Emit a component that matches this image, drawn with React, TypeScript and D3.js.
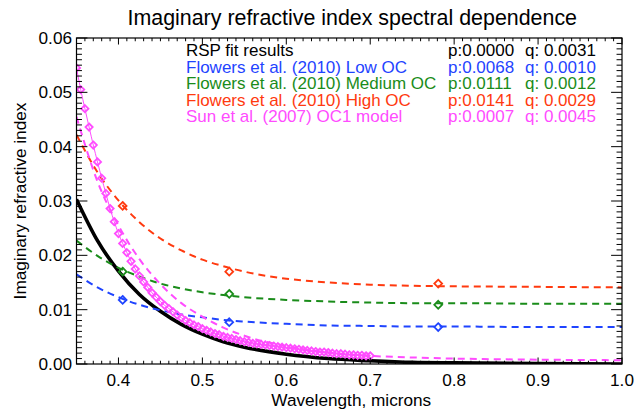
import * as d3 from "d3"

// curve grid (microns) used for the fitted spectral curves
const fitWavelengths = [0.35, 0.375, 0.4, 0.425, 0.45, 0.475, 0.5, 0.525, 0.55, 0.6, 0.65, 0.7, 0.75, 0.8, 0.9, 1.0]

const rspFit = [0.0303, 0.0227, 0.0171, 0.0128, 0.0097, 0.0073, 0.0055, 0.0041, 0.0031, 0.0018, 0.001, 0.0006, 0.0003, 0.0002, 0.0001, 0.0]
const lowOcFit = [0.0165, 0.0141, 0.0123, 0.0109, 0.0099, 0.0091, 0.0086, 0.0081, 0.0078, 0.0074, 0.0071, 0.007, 0.0069, 0.0069, 0.0068, 0.0068]
const medOcFit = [0.0227, 0.0199, 0.0177, 0.0161, 0.0148, 0.0139, 0.0132, 0.0127, 0.0123, 0.0118, 0.0115, 0.0113, 0.0112, 0.0112, 0.0111, 0.0111]
const highOcFit = [0.0422, 0.0353, 0.0301, 0.0261, 0.0231, 0.0209, 0.0192, 0.018, 0.017, 0.0157, 0.015, 0.0146, 0.0144, 0.0143, 0.0142, 0.0141]
const sunFit = [0.0455, 0.0336, 0.0255, 0.0193, 0.0147, 0.0112, 0.0087, 0.0067, 0.0052, 0.0033, 0.0021, 0.0015, 0.0012, 0.001, 0.0008, 0.0007]

// Flowers et al. measurement wavelengths
const flowersWavelengths = [0.405, 0.532, 0.781]
const lowOcPoints = [0.0118, 0.0077, 0.0068]
const medOcPoints = [0.017, 0.0129, 0.0109]
const highOcPoints = [0.0291, 0.017, 0.0148]

// Sun et al. (2007) OC1 model
const sunWavelengths = [
  0.35, 0.355, 0.36, 0.365, 0.37, 0.375, 0.38, 0.385, 0.39, 0.395, 0.4, 0.405, 0.41, 0.415, 0.42, 0.425, 0.43, 0.435,
  0.44, 0.445, 0.45, 0.455, 0.46, 0.465, 0.47, 0.475, 0.48, 0.485, 0.49, 0.495, 0.5, 0.505, 0.51, 0.515, 0.52, 0.525,
  0.53, 0.535, 0.54, 0.545, 0.55, 0.555, 0.56, 0.565, 0.57, 0.575, 0.58, 0.585, 0.59, 0.595, 0.6, 0.605, 0.61, 0.615,
  0.62, 0.625, 0.63, 0.635, 0.64, 0.645, 0.65, 0.655, 0.66, 0.665, 0.67, 0.675, 0.68, 0.685, 0.69, 0.695, 0.7,
]
const sunModel = [
  0.0545, 0.0505, 0.047, 0.0436, 0.0403, 0.0372, 0.0342, 0.0314, 0.0286, 0.0262, 0.024, 0.0222, 0.0205, 0.0189, 0.0175,
  0.0162, 0.0151, 0.0141, 0.0131, 0.0123, 0.0115, 0.0108, 0.0102, 0.0096, 0.009, 0.0085, 0.008, 0.0076, 0.0072, 0.0069,
  0.0065, 0.0062, 0.0059, 0.0056, 0.0054, 0.0051, 0.0049, 0.0047, 0.0045, 0.0043, 0.0041, 0.004, 0.0038, 0.0037, 0.0036,
  0.0035, 0.0034, 0.0033, 0.0032, 0.0031, 0.003, 0.0029, 0.0028, 0.0027, 0.0026, 0.0025, 0.0024, 0.0023, 0.0022, 0.0022,
  0.0021, 0.002, 0.0019, 0.0019, 0.0018, 0.0017, 0.0017, 0.0016, 0.0016, 0.0015, 0.0015,
]

const legendLabels = [
  "RSP fit results",
  "Flowers et al. (2010) Low OC",
  "Flowers et al. (2010) Medium OC",
  "Flowers et al. (2010) High OC",
  "Sun et al. (2007) OC1 model",
]
const legendP = ["p:0.0000", "p:0.0068", "p:0.0111", "p:0.0141", "p:0.0007"]
const legendQ = ["q: 0.0031", "q: 0.0010", "q: 0.0012", "q: 0.0029", "q: 0.0045"]

const xTickValues = [0.4, 0.5, 0.6, 0.7, 0.8, 0.9, 1.0]
const yTickValues = [0, 0.01, 0.02, 0.03, 0.04, 0.05, 0.06]

const BLACK = "#000000"
const BLUE = "#1f44ff"
const GREEN = "#1a8c1a"
const RED = "#ff3a0f"
const MAGENTA = "#ff4cff"
const legendColors = [BLACK, BLUE, GREEN, RED, MAGENTA]

const FONT = "'Liberation Sans', Arial, Helvetica, sans-serif"

export default function App() {
  const width = 635
  const height = 410
  const left = 76.5
  const right = 622
  const top = 38
  const bottom = 364

  const x = d3.scaleLinear().domain([0.35, 1.0]).range([left, right])
  const y = d3.scaleLinear().domain([0, 0.06]).range([bottom, top])

  const line = d3
    .line<[number, number]>()
    .x((d) => x(d[0]))
    .y((d) => y(d[1]))
    .curve(d3.curveMonotoneX)

  const zip = (xs: number[], ys: number[]) => xs.map((v, i) => [v, ys[i]] as [number, number])

  // IDL style tick lengths: 2% of the plot size, minor ticks half
  const yLen = 0.02 * (right - left)
  const xLen = 0.02 * (bottom - top)
  const yMinor = d3.range(0, 61).map((i) => i / 1000)
  const xMinor = d3.range(35, 101).map((i) => i / 100)
  const isMajorY = (v: number) => Math.abs(v * 100 - Math.round(v * 100)) < 1e-6
  const isMajorX = (v: number) => Math.abs(v * 10 - Math.round(v * 10)) < 1e-6

  const diamond = (cx: number, cy: number, r: number) =>
    `M${cx},${cy - r}L${cx + r},${cy}L${cx},${cy + r}L${cx - r},${cy}Z`

  const dashed = [
    { ys: lowOcFit, pts: lowOcPoints, color: BLUE },
    { ys: medOcFit, pts: medOcPoints, color: GREEN },
    { ys: highOcFit, pts: highOcPoints, color: RED },
  ]

  return (
    <svg
      width={width}
      height={height}
      style={{ position: "absolute", left: 0, top: 0, background: "#fff", fontFamily: FONT }}
    >
      <defs>
        <clipPath id="plot">
          <rect x={left} y={top} width={right - left} height={bottom - top} />
        </clipPath>
      </defs>
      <rect x={0} y={0} width={width} height={height} fill="#fff" />

      <text x={(left + right) / 2 + 3} y={25} textAnchor="middle" fontSize={21.4} fill={BLACK}>
        Imaginary refractive index spectral dependence
      </text>

      <g clipPath="url(#plot)">
        <path d={line(zip(fitWavelengths, rspFit)) || ""} fill="none" stroke={BLACK} strokeWidth={3.6} />
        {dashed.map((s, i) => (
          <g key={i}>
            <path
              d={line(zip(fitWavelengths, s.ys)) || ""}
              fill="none"
              stroke={s.color}
              strokeWidth={2}
              strokeDasharray="7,5"
            />
            {flowersWavelengths.map((w, j) => (
              <path
                key={j}
                d={diamond(x(w), y(s.pts[j]), 3.9)}
                fill="none"
                stroke={s.color}
                strokeWidth={1.8}
              />
            ))}
          </g>
        ))}
        <path
          d={line(zip(fitWavelengths, sunFit)) || ""}
          fill="none"
          stroke={MAGENTA}
          strokeWidth={2}
          strokeDasharray="7,5"
        />
        <path d={line(zip(sunWavelengths, sunModel)) || ""} fill="none" stroke={MAGENTA} strokeWidth={1} />
        {sunWavelengths.map((w, i) => (
          <path
            key={i}
            d={diamond(x(w), y(sunModel[i]), 3.6)}
            fill="none"
            stroke={MAGENTA}
            strokeWidth={1.8}
          />
        ))}
      </g>

      {/* frame */}
      <rect x={left} y={top} width={right - left} height={bottom - top} fill="none" stroke={BLACK} strokeWidth={1.2} />

      {yMinor.map((v, i) => {
        const len = isMajorY(v) ? yLen : yLen / 2
        return (
          <g key={i} stroke={BLACK} strokeWidth={1}>
            <line x1={left} x2={left + len} y1={y(v)} y2={y(v)} />
            <line x1={right} x2={right - len} y1={y(v)} y2={y(v)} />
          </g>
        )
      })}
      {xMinor.map((v, i) => {
        const len = isMajorX(v) ? xLen : xLen / 2
        return (
          <g key={i} stroke={BLACK} strokeWidth={1}>
            <line x1={x(v)} x2={x(v)} y1={bottom} y2={bottom - len} />
            <line x1={x(v)} x2={x(v)} y1={top} y2={top + len} />
          </g>
        )
      })}

      {yTickValues.map((v, i) => (
        <text key={i} x={72} y={y(v) + 6} textAnchor="end" fontSize={17.2} fill={BLACK}>
          {d3.format(".2f")(v)}
        </text>
      ))}
      {xTickValues.map((v, i) => (
        <text key={i} x={x(v)} y={386} textAnchor="middle" fontSize={17.2} fill={BLACK}>
          {d3.format(".1f")(v)}
        </text>
      ))}

      <text x={(left + right) / 2 + 2} y={405.5} textAnchor="middle" fontSize={17.2} fill={BLACK}>
        Wavelength, microns
      </text>
      <text
        transform={`translate(26,${(top + bottom) / 2}) rotate(-90)`}
        textAnchor="middle"
        fontSize={17.2}
        fill={BLACK}
      >
        Imaginary refractive index
      </text>

      {legendLabels.map((label, i) => (
        <g key={i} fill={legendColors[i]} fontSize={17}>
          <text x={186} y={56 + i * 16.6}>
            {label}
          </text>
          <text x={448} y={56 + i * 16.6}>
            {legendP[i]}
          </text>
          <text x={525} y={56 + i * 16.6}>
            {legendQ[i]}
          </text>
        </g>
      ))}
    </svg>
  )
}
